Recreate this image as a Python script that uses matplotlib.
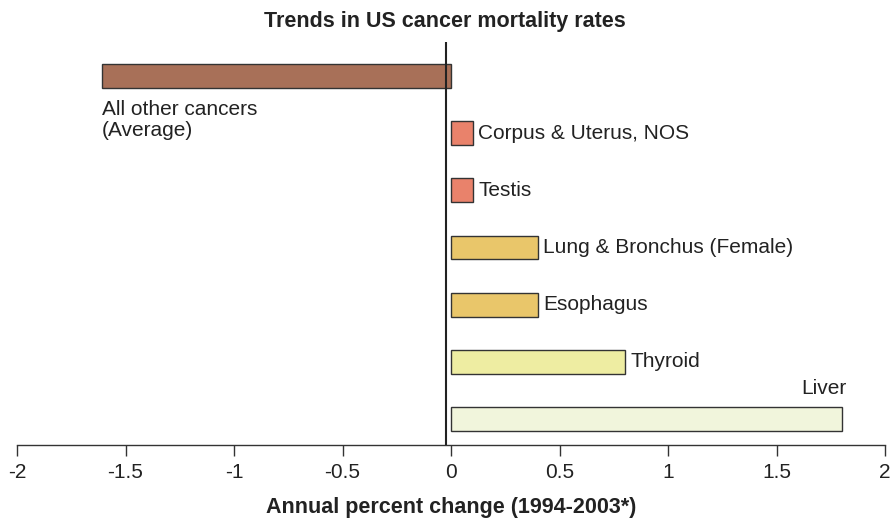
import matplotlib.pyplot as plt
from matplotlib.ticker import FuncFormatter

plt.rcParams['font.family'] = ['Liberation Sans', 'DejaVu Sans']
plt.rcParams['axes.unicode_minus'] = False

# data
cancers = ['All other cancers\n(Average)', 'Corpus & Uterus, NOS', 'Testis',
           'Lung & Bronchus (Female)', 'Esophagus', 'Thyroid', 'Liver']
change = [-1.61, 0.1, 0.1, 0.4, 0.4, 0.8, 1.8]
colors = ['#A87058', '#E9826B', '#E9826B', '#E9C66A', '#E9C66A', '#EEEDA2', '#F1F5DC']
xticks = [-2, -1.5, -1, -0.5, 0, 0.5, 1, 1.5, 2]

fig = plt.figure(figsize=(8.91, 5.19), dpi=100)
ax = fig.add_axes([17 / 891, 1 - 445 / 519, 868 / 891, 403 / 519])

ypos = list(range(len(cancers)))
ax.barh(ypos, change, height=0.42, color=colors, edgecolor='#333333', linewidth=1.0, zorder=2)
ax.axvline(-0.025, color='#222222', linewidth=1.5, zorder=3)

fs = 15
for y, val, name in zip(ypos, change, cancers):
    if val < 0:
        ax.text(val, y + 0.42, name, ha='left', va='top', fontsize=fs, color='#222222',
                linespacing=1.1)
    elif name == 'Liver':
        ax.text(val - 0.08, y - 0.36, name, ha='center', va='bottom', fontsize=fs, color='#222222')
    else:
        ax.text(val + 0.025, y, name, ha='left', va='center', fontsize=fs, color='#222222')

ax.set_xlim(-2, 2)
ax.set_ylim(6.46, -0.6)
ax.set_xticks(xticks)
ax.xaxis.set_major_formatter(FuncFormatter(lambda v, p: '%g' % v))
ax.set_yticks([])
for s in ['top', 'right', 'left']:
    ax.spines[s].set_visible(False)
ax.spines['bottom'].set_color('#333333')
ax.spines['bottom'].set_linewidth(1.0)
ax.tick_params(axis='x', direction='out', length=8, width=1.0, color='#333333',
               labelsize=fs, labelcolor='#222222', pad=5)

ax.set_xlabel('Annual percent change (1994-2003*)', fontsize=15.5, fontweight='bold',
              color='#222222', labelpad=11)
fig.text(445 / 891, 1 - 22 / 519, 'Trends in US cancer mortality rates', ha='center', va='center',
         fontsize=15.5, fontweight='bold', color='#222222')

plt.savefig('out.png')
